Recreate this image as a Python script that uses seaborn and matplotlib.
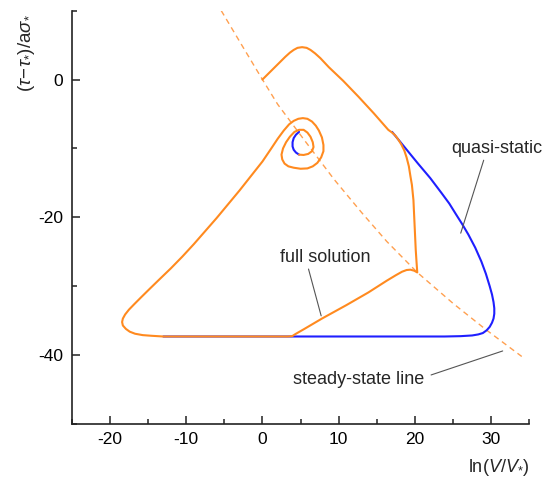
import numpy as np
import pandas as pd
import matplotlib
matplotlib.use("Agg")
import matplotlib.pyplot as plt
from matplotlib.ticker import MultipleLocator
import seaborn as sns

# ---- data ----
# full solution (orange), path order
full_x = [0.0, 1.0, 2.0, 3.0, 3.6, 4.1, 4.6, 5.2, 5.8, 6.3, 6.9, 7.6, 8.7, 10.6, 12.6, 14.6,
          16.5, 17.0, 17.4, 17.8, 18.2, 18.6, 18.9, 19.2, 19.4, 19.6, 19.8, 19.9, 20.0, 20.1,
          20.2, 20.3,
          19.9, 19.4, 18.9, 18.3, 17.5, 16.3, 13.9, 11.0, 7.8, 5.5, 4.4, 3.9, 3.3, 0.0, -5.0,
          -10.0, -13.0, -14.5, -15.7, -16.7, -17.4, -17.9, -18.3, -18.4, -18.3, -18.0, -17.5,
          -16.8, -15.9, -14.8, -13.5, -12.0, -10.5, -9.0, -7.5, -6.0, -4.5, -3.0, -1.5, 0.0,
          1.1, 2.0, 2.8, 3.5, 4.1, 4.7, 5.3, 5.9, 6.5, 7.0, 7.4, 7.8, 8.0, 8.0, 7.7, 7.2, 6.6,
          5.9, 5.0, 4.1, 3.4, 2.9, 2.6, 2.5, 2.7, 3.1, 3.6, 4.2, 4.8, 5.4, 5.9, 6.3, 6.6, 6.7,
          6.5, 6.0, 5.4, 4.8]
full_y = [0.0, 1.1, 2.2, 3.3, 3.9, 4.3, 4.6, 4.7, 4.6, 4.3, 3.8, 3.1, 1.8, -0.2, -2.5, -4.9,
          -7.3, -7.7, -8.1, -8.7, -9.4, -10.3, -11.3, -12.6, -14.0, -15.3, -17.5, -19.9, -22.3,
          -24.7, -26.4, -28.0,
          -27.75, -27.6, -27.65, -27.9, -28.4, -29.2, -30.9, -32.75, -34.7, -36.2, -36.9, -37.25,
          -37.3, -37.3, -37.3, -37.3, -37.3, -37.2, -37.1, -36.9, -36.6, -36.2, -35.7, -35.2,
          -34.7, -34.1, -33.4, -32.6, -31.6, -30.4, -29.0, -27.4, -25.7, -23.9, -22.0, -20.1,
          -18.1, -16.1, -14.0, -11.9, -10.1, -8.6, -7.4, -6.5, -6.0, -5.7, -5.6, -5.7, -6.1,
          -6.7, -7.4, -8.4, -9.5, -10.4, -11.3, -12.1, -12.6, -12.9, -12.95, -12.8, -12.6,
          -12.2, -11.6, -10.9, -10.0, -9.1, -8.3, -7.6, -7.3, -7.3, -7.7, -8.3, -9.1, -9.8,
          -10.4, -10.8, -10.95, -10.9]

# quasi-static (blue): outer branch and inner spiral piece
qs_outer_x = [17.0, 18.7, 20.4, 22.0, 23.5, 24.5, 25.4, 26.2, 27.0, 27.9, 28.7, 29.3, 29.8,
              30.1, 30.3, 30.4, 30.4, 30.3, 30.1, 29.8, 29.4, 28.9, 28.3, 27.5, 26.0, 23.9,
              15.0, 3.9, -5.0, -13.0]
qs_outer_y = [-7.6, -9.9, -12.2, -14.3, -16.5, -18.0, -19.6, -21.0, -22.5, -24.4, -26.4, -28.2,
              -30.0, -31.2, -32.3, -33.2, -34.0, -34.7, -35.3, -35.9, -36.4, -36.8, -37.0,
              -37.15, -37.25, -37.3, -37.3, -37.3, -37.3, -37.3]
qs_inner_x = [4.8, 4.4, 4.1, 3.95, 3.95, 4.1, 4.4, 4.8]
qs_inner_y = [-10.9, -10.6, -10.2, -9.7, -9.1, -8.5, -8.0, -7.6]

# steady-state line (dashed)
ss_x = [-5.4, -2.6, 0.0, 2.0, 5.5, 9.4, 13.0, 16.3, 20.3, 25.0, 29.3, 34.0]
ss_y = [10.0, 4.8, 0.0, -3.6, -8.8, -14.5, -19.3, -23.5, -28.0, -32.5, -36.3, -40.2]

x_ticks = [-20, -10, 0, 10, 20, 30]
y_ticks = [0, -20, -40]

# ---- style ----
sns.set_theme(style="ticks")
plt.rcParams["font.family"] = ["Liberation Sans", "DejaVu Sans"]
plt.rcParams["axes.unicode_minus"] = False
plt.rcParams["mathtext.fontset"] = "custom"
plt.rcParams["mathtext.rm"] = "Liberation Sans"
plt.rcParams["mathtext.it"] = "Liberation Sans:italic"
plt.rcParams["mathtext.bf"] = "Liberation Sans:bold"

ORANGE = "#FF8A1F"
BLUE = "#1F1FFF"
DASH = "#FFA050"

fig = plt.figure(figsize=(5.52, 4.84), dpi=100)
ax = fig.add_axes([0.130, 0.124, 0.829, 0.854])

df_full = pd.DataFrame({"x": full_x, "y": full_y})
df_qo = pd.DataFrame({"x": qs_outer_x, "y": qs_outer_y})
df_qi = pd.DataFrame({"x": qs_inner_x, "y": qs_inner_y})
df_ss = pd.DataFrame({"x": ss_x, "y": ss_y})

sns.lineplot(data=df_ss, x="x", y="y", sort=False, estimator=None, ax=ax,
             color=DASH, lw=1.0, zorder=1)
ax.lines[-1].set_dashes((4, 3))
sns.lineplot(data=df_qo, x="x", y="y", sort=False, estimator=None, ax=ax,
             color=BLUE, lw=1.5, zorder=2)
sns.lineplot(data=df_qi, x="x", y="y", sort=False, estimator=None, ax=ax,
             color=BLUE, lw=1.5, zorder=2)
sns.lineplot(data=df_full, x="x", y="y", sort=False, estimator=None, ax=ax,
             color=ORANGE, lw=1.5, zorder=3)
for ln in ax.lines:
    ln.set_solid_joinstyle("round")

ax.set_xlim(-25, 35)
ax.set_ylim(-50, 10)
ax.set_xticks(x_ticks)
ax.set_yticks(y_ticks)
ax.xaxis.set_minor_locator(MultipleLocator(5))
ax.yaxis.set_minor_locator(MultipleLocator(10))
ax.tick_params(which="both", direction="in", width=1.1, colors="#222222", labelcolor="black",
               labelsize=12.5)
ax.tick_params(which="major", length=5.5, pad=6)
ax.tick_params(which="minor", length=3.5)
for s in ["top", "right"]:
    ax.spines[s].set_visible(False)
for s in ["left", "bottom"]:
    ax.spines[s].set_linewidth(1.2)
    ax.spines[s].set_color("#222222")

ax.set_xlabel(r"$\mathrm{ln}(V/V_{*})$", fontsize=13, loc="right")
ax.xaxis.label.set_va("center")
ax.xaxis.set_label_coords(1.0, -0.106)
ax.set_ylabel(r"$(\tau\!-\!\tau_{*})/\mathrm{a}\sigma_{*}$", fontsize=13.5, loc="top")
ax.yaxis.label.set_va("center")
ax.yaxis.set_label_coords(-0.098, 0.992)

ann_kw = dict(fontsize=13, ha="center", va="center")
line_kw = dict(arrowstyle="-", color="#555555", lw=0.8, shrinkA=0, shrinkB=0)
ax.annotate("quasi-static", xy=(26.0, -22.3), xytext=(30.7, -10.0),
            arrowprops=dict(relpos=(0.37, 0.0), **line_kw), **ann_kw)
ax.annotate("full solution", xy=(7.7, -34.3), xytext=(8.3, -25.8),
            arrowprops=dict(relpos=(0.30, 0.0), **line_kw), **ann_kw)
ax.annotate("steady-state line", xy=(31.5, -39.4), xytext=(12.65, -43.5),
            arrowprops=dict(relpos=(1.05, 0.75), **line_kw), **ann_kw)

fig.savefig("out.png", dpi=100, facecolor="white")
